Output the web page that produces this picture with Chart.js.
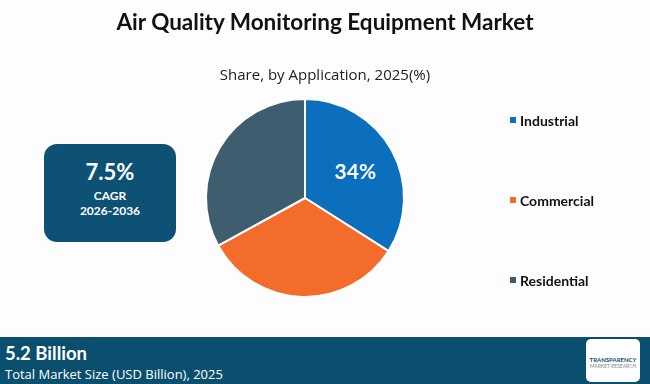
<!DOCTYPE html>
<html>
<head>
<meta charset="utf-8">
<script src="https://cdn.jsdelivr.net/npm/chart.js@4.4.0/dist/chart.umd.min.js"></script>
<style>
  body { margin: 0; background: #fdfdfd; font-family: Lato, "Open Sans", sans-serif; }
  #wrap { position: relative; width: 650px; height: 384px; overflow: hidden; }
  #pie { position: absolute; left: 0; top: 0; }
  .title { position: absolute; top: 8px; left: 0; width: 650px; text-align: center; font-weight: bold; font-size: 22.5px; color: #111; }
  .sub { position: absolute; top: 64px; left: 0; width: 650px; text-align: center; font-size: 15px; color: #222; font-family: "Open Sans", sans-serif; }
  .cagr { position: absolute; left: 44px; top: 144px; width: 132px; height: 98px; background: #0d5274; border-radius: 13px; color: #fff; text-align: center; }
  .cagr .big { font-size: 22px; font-weight: bold; margin-top: 14px; }
  .cagr .small { font-size: 12px; font-weight: bold; line-height: 15px; margin-top: 3px; }
  .band { position: absolute; left: 0; top: 337px; width: 650px; height: 47px; background: #0b4f6e; color: #fff; }
  .band .v { position: absolute; left: 5px; top: 5px; font-size: 18.5px; font-weight: bold; }
  .band .d { position: absolute; left: 5px; top: 28px; font-size: 13px; font-family: "Open Sans", sans-serif; }
  .logo { position: absolute; left: 586px; top: 2px; width: 54px; height: 43px; background: #fff; border-radius: 5px; font-size: 6px; color: #0b4f6e; text-align: center; font-weight: bold; }
  .logo .t { margin-top: 17px; }
  .logo .m { color: #7a8a94; font-weight: normal; font-size: 5px; }
</style>
</head>
<body>
<div id="wrap">
  <canvas id="pie" width="650" height="384"></canvas>
  <div class="title">Air Quality Monitoring Equipment Market</div>
  <div class="sub">Share, by Application, 2025(%)</div>
  <div class="cagr"><div class="big">7.5%</div><div class="small">CAGR<br>2026-2036</div></div>
  <div class="band">
    <div class="v">5.2 Billion</div>
    <div class="d">Total Market Size (USD Billion), 2025</div>
    <div class="logo"><div class="t">TRANSPARENCY</div><div class="m">MARKET RESEARCH</div></div>
  </div>
</div>
<script>
// chart data
var categories = ['Industrial', 'Commercial', 'Residential'];
var shares = [34, 33, 33];
var colors = ['#0b6fbe', '#f36c2b', '#3e5e70'];
var shownLabels = ['34%', '', ''];

// label inside the slices + legend on the right
var sliceLabels = {
  id: 'sliceLabels',
  afterDatasetsDraw: function (chart) {
    var ctx = chart.ctx;
    var meta = chart.getDatasetMeta(0);
    ctx.save();
    meta.data.forEach(function (arc, i) {
      if (!shownLabels[i]) return;
      var p = arc.tooltipPosition();
      ctx.fillStyle = '#fff';
      ctx.font = 'bold 21px Lato, sans-serif';
      ctx.textAlign = 'center';
      ctx.textBaseline = 'middle';
      ctx.fillText(shownLabels[i], p.x + 7, p.y - 2);
    });
    // legend
    chart.data.labels.forEach(function (lab, i) {
      var y = 120 + i * 80;
      ctx.fillStyle = colors[i];
      ctx.fillRect(510, y - 3, 6, 6);
      ctx.fillStyle = '#111';
      ctx.font = 'bold 14px Lato, sans-serif';
      ctx.textAlign = 'left';
      ctx.textBaseline = 'middle';
      ctx.fillText(lab, 520, y + 1);
    });
    ctx.restore();
  }
};

var ctx = document.getElementById('pie').getContext('2d');
var pieChart = new Chart(ctx, {
  type: 'pie',
  data: {
    labels: categories,
    datasets: [{
      data: shares,
      backgroundColor: colors,
      borderColor: '#ffffff',
      borderWidth: 2
    }]
  },
  options: {
    responsive: false,
    animation: false,
    layout: { padding: { left: 205, right: 245, top: 98, bottom: 86 } },
    plugins: {
      legend: { display: false },
      tooltip: { enabled: false }
    }
  },
  plugins: [sliceLabels]
});
</script>
</body>
</html>
